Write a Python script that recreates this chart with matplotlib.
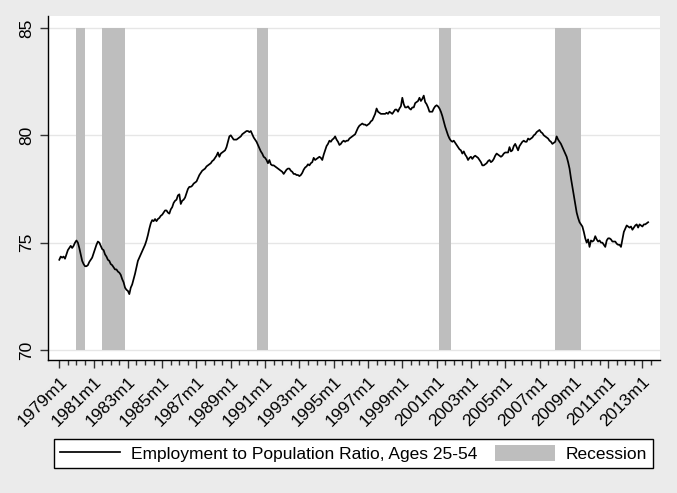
import matplotlib
matplotlib.use("Agg")
import matplotlib.pyplot as plt
from matplotlib.patches import Patch
from matplotlib.lines import Line2D

# Employment to population ratio, ages 25-54, monthly from 1979m1
start_month = "1979m1"
epop_25_54 = [
    74.2, 74.35, 74.3, 74.35, 74.25, 74.45, 74.65, 74.75, 74.85, 74.75, 74.85, 75.0,   # 1979
    75.1, 75.0, 74.75, 74.45, 74.15, 74.0, 73.9, 73.9, 73.95, 74.1, 74.2, 74.3,       # 1980
    74.5, 74.7, 74.9, 75.05, 75.0, 74.85, 74.7, 74.65, 74.45, 74.35, 74.2, 74.15,     # 1981
    74.0, 73.95, 73.85, 73.75, 73.75, 73.65, 73.6, 73.5, 73.3, 73.15, 72.9, 72.8,     # 1982
    72.75, 72.6, 72.9, 73.05, 73.3, 73.55, 73.85, 74.15, 74.3, 74.45, 74.6, 74.75,    # 1983
    74.9, 75.1, 75.35, 75.65, 75.9, 76.05, 76.0, 76.1, 76.0, 76.1, 76.15, 76.25,      # 1984
    76.3, 76.4, 76.5, 76.5, 76.4, 76.35, 76.55, 76.65, 76.85, 76.95, 77.0, 77.2,      # 1985
    77.25, 76.8, 76.95, 77.0, 77.1, 77.3, 77.5, 77.6, 77.6, 77.65, 77.75, 77.8,       # 1986
    77.85, 78.0, 78.15, 78.25, 78.35, 78.4, 78.45, 78.55, 78.6, 78.65, 78.7, 78.8,    # 1987
    78.85, 78.95, 79.05, 79.2, 79.0, 79.15, 79.2, 79.25, 79.3, 79.45, 79.7, 79.95,    # 1988
    80.0, 79.9, 79.8, 79.8, 79.8, 79.85, 79.9, 79.95, 80.05, 80.1, 80.15, 80.2,       # 1989
    80.2, 80.15, 80.2, 80.05, 79.9, 79.8, 79.7, 79.55, 79.4, 79.25, 79.15, 79.0,      # 1990
    78.95, 78.85, 78.7, 78.85, 78.65, 78.6, 78.6, 78.55, 78.5, 78.45, 78.4, 78.35,    # 1991
    78.3, 78.2, 78.3, 78.4, 78.45, 78.45, 78.35, 78.3, 78.2, 78.2, 78.15, 78.15,      # 1992
    78.1, 78.15, 78.25, 78.4, 78.5, 78.55, 78.65, 78.6, 78.7, 78.75, 78.95, 78.85,    # 1993
    78.9, 78.95, 79.0, 78.95, 78.85, 79.1, 79.3, 79.5, 79.6, 79.75, 79.7, 79.8,       # 1994
    79.85, 79.95, 79.8, 79.7, 79.55, 79.6, 79.7, 79.75, 79.7, 79.75, 79.75, 79.85,    # 1995
    79.9, 79.95, 80.0, 80.05, 80.2, 80.35, 80.45, 80.5, 80.55, 80.5, 80.5, 80.45,     # 1996
    80.5, 80.55, 80.65, 80.7, 80.85, 81.0, 81.25, 81.1, 81.05, 81.0, 81.0, 81.0,      # 1997
    81.0, 81.05, 81.0, 81.1, 81.05, 81.0, 81.1, 81.2, 81.2, 81.1, 81.25, 81.35,       # 1998
    81.75, 81.45, 81.3, 81.3, 81.35, 81.25, 81.2, 81.3, 81.3, 81.5, 81.55, 81.6,      # 1999
    81.75, 81.6, 81.7, 81.85, 81.55, 81.45, 81.3, 81.1, 81.1, 81.1, 81.25, 81.35,     # 2000
    81.4, 81.35, 81.25, 81.1, 80.9, 80.65, 80.4, 80.2, 80.0, 79.85, 79.75, 79.7,      # 2001
    79.75, 79.65, 79.55, 79.45, 79.35, 79.3, 79.15, 79.25, 79.1, 79.0, 78.85, 78.95,  # 2002
    79.0, 78.9, 79.0, 79.05, 79.0, 78.95, 78.85, 78.75, 78.6, 78.6, 78.65, 78.7,      # 2003
    78.8, 78.85, 78.75, 78.8, 78.9, 79.05, 79.15, 79.1, 79.05, 79.0, 79.05, 79.15,    # 2004
    79.2, 79.2, 79.2, 79.45, 79.25, 79.3, 79.5, 79.6, 79.45, 79.3, 79.5, 79.6,        # 2005
    79.7, 79.75, 79.7, 79.7, 79.85, 79.8, 79.85, 79.9, 80.0, 80.05, 80.15, 80.2,      # 2006
    80.25, 80.15, 80.1, 80.0, 79.95, 79.9, 79.85, 79.75, 79.7, 79.6, 79.65, 79.7,     # 2007
    79.95, 79.8, 79.7, 79.6, 79.45, 79.3, 79.15, 79.0, 78.75, 78.45, 78.0, 77.6,      # 2008
    77.2, 76.8, 76.4, 76.15, 75.95, 75.85, 75.75, 75.5, 75.2, 75.0, 75.15, 74.8,      # 2009
    75.1, 75.05, 75.1, 75.3, 75.15, 75.05, 75.1, 75.0, 75.0, 74.9, 74.8, 75.1,        # 2010
    75.2, 75.2, 75.15, 75.05, 75.05, 75.05, 74.95, 74.9, 74.9, 74.8, 75.15, 75.5,     # 2011
    75.65, 75.8, 75.75, 75.7, 75.75, 75.6, 75.7, 75.8, 75.85, 75.7, 75.85, 75.8,      # 2012
    75.75, 75.85, 75.85, 75.9, 75.95,                                                 # 2013
]

recession_start = ["1980m1", "1981m7", "1990m7", "2001m3", "2007m12"]
recession_end = ["1980m7", "1982m11", "1991m3", "2001m11", "2009m6"]

tick_labels = ["%dm1" % y for y in range(1979, 2014, 2)]
y_ticks = [70, 75, 80, 85]


def month_index(s):
    """Months elapsed since start_month for a Stata-style 'YYYYmM' string"""
    y, m = s.split("m")
    y0, m0 = start_month.split("m")
    return (int(y) - int(y0)) * 12 + int(m) - int(m0)


bg = "#EBEBEB"
shade = "#BEBEBE"
fs = 12.5
plt.rcParams["font.family"] = ["Liberation Sans", "DejaVu Sans"]

fig = plt.figure(figsize=(6.77, 4.93), dpi=100, facecolor=bg)
ax = fig.add_axes([48 / 677, 1 - 360 / 493, 612 / 677, 344 / 493])
ax.set_facecolor("white")

months = list(range(len(epop_25_54)))

# recession shading, drawn behind everything else
for s, e in zip(recession_start, recession_end):
    a, b = month_index(s), month_index(e)
    ax.bar(a, y_ticks[-1] - y_ticks[0], bottom=y_ticks[0], width=b - a,
           align="edge", color=shade, linewidth=0, zorder=1)

ax.plot(months, epop_25_54, color="black", linewidth=1.25, zorder=3)

ax.set_xlim(-7.9, 420.3)
ax.set_ylim(69.53, 85.56)

ax.set_yticks(y_ticks)
ax.set_yticklabels([str(v) for v in y_ticks], rotation=90, va="center")
ax.yaxis.grid(True, color="#E6E6E6", linewidth=1.0, zorder=0)
ax.set_axisbelow(True)

ax.set_xticks([month_index(t) for t in tick_labels])
ax.set_xticklabels(tick_labels, rotation=45, ha="right", va="top",
                   rotation_mode="anchor")
ax.set_xticks([month_index(tick_labels[0]) + 6 * k for k in range(70)
               if 6 * k % 24 != 0 and month_index(tick_labels[0]) + 6 * k < 420],
              minor=True)

ax.tick_params(axis="both", which="major", direction="out", length=6,
               width=1.0, labelsize=fs, color="#333333", pad=4)
ax.tick_params(axis="x", which="minor", direction="out", length=3.5,
               width=1.0, color="#333333")

for side in ["top", "right"]:
    ax.spines[side].set_visible(False)
for side in ["left", "bottom"]:
    ax.spines[side].set_color("black")
    ax.spines[side].set_linewidth(1.0)

handles = [Line2D([], [], color="black", linewidth=1.25),
           Patch(facecolor=shade, edgecolor="none")]
labels = ["Employment to Population Ratio, Ages 25-54", "Recession"]
leg = fig.legend(handles, labels, loc="center", ncol=2,
                 bbox_to_anchor=(353.5 / 677, 1 - 453.5 / 493),
                 fontsize=fs, frameon=True, fancybox=False, framealpha=1,
                 edgecolor="black", handlelength=3.45, handleheight=1.0,
                 handletextpad=0.63, columnspacing=1.05, borderpad=0.35,
                 borderaxespad=0)
leg.get_frame().set_linewidth(1.0)

fig.savefig("out.png", dpi=100, facecolor=bg)
